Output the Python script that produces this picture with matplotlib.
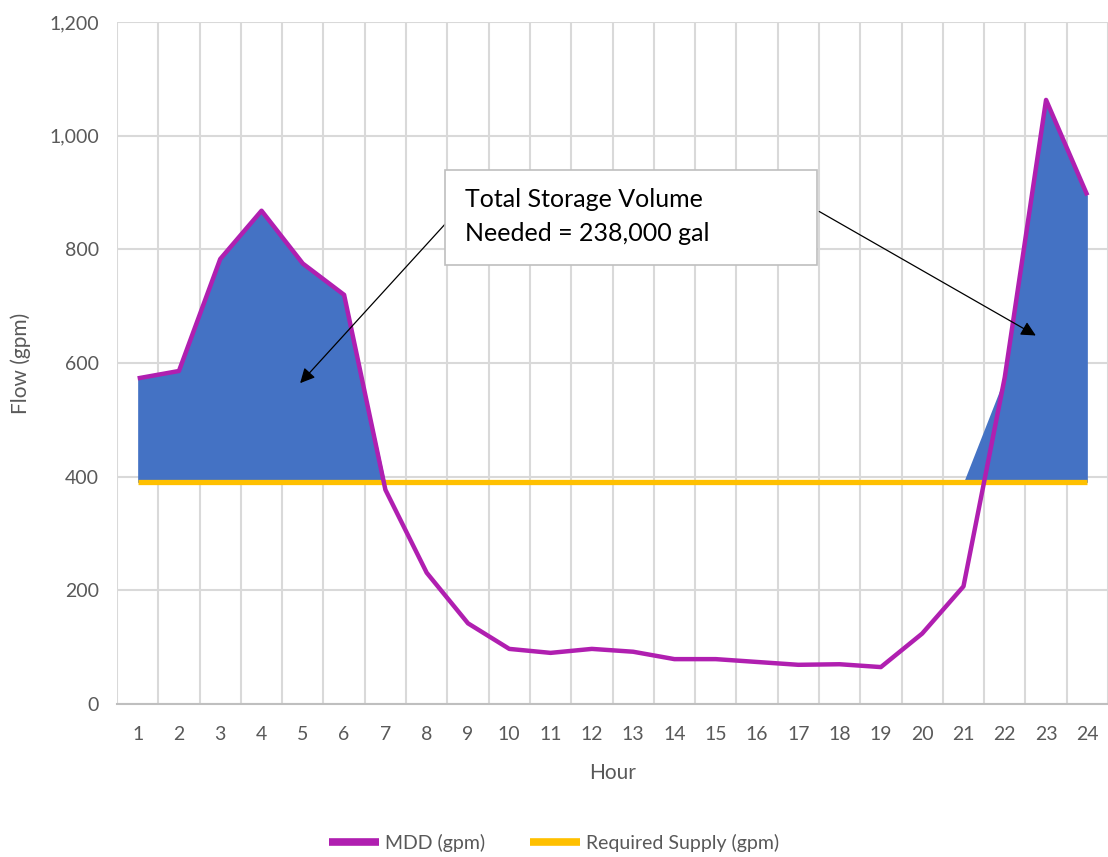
import numpy as np
import matplotlib
matplotlib.use('Agg')
import matplotlib.pyplot as plt
from matplotlib.patches import Rectangle
from matplotlib.ticker import FuncFormatter, MultipleLocator

plt.rcParams['font.family'] = ['Lato', 'DejaVu Sans']

# data
hours = np.arange(1, 25)
mdd = [573, 586, 783, 868, 775, 720, 377, 231, 142, 97, 90, 97,
       92, 79, 79, 74, 69, 70, 65, 124, 207, 575, 1063, 895]
supply = [390] * 24
note = 'Total Storage Volume\nNeeded = 238,000 gal'

grey_txt = '#595959'
mdd = np.array(mdd)
supply = np.array(supply)

fig = plt.figure(figsize=(11.08, 8.57), dpi=100)
ax = fig.add_axes([0.1056, 0.1785, 0.8944, 0.7958])

# storage area (excess over supply, only at hourly points)
ax.fill_between(hours, supply, np.maximum(mdd, supply), color='#4472C4', lw=0, zorder=2)
l_mdd, = ax.plot(hours, mdd, color='#B01FB0', lw=3.2, solid_capstyle='butt', zorder=4,
                 label='MDD (gpm)')
l_sup, = ax.plot(hours, supply, color='#FFC000', lw=3.8, solid_capstyle='butt', zorder=3,
                 label='Required Supply (gpm)')

ax.set_xlim(0.5, 24.5)
ax.set_ylim(0, 1200)
ax.set_xticks(hours)
ax.xaxis.set_minor_locator(MultipleLocator(1, offset=0.5))
ax.yaxis.set_major_locator(MultipleLocator(200))
ax.yaxis.set_major_formatter(FuncFormatter(lambda v, p: f'{int(v):,}'))
ax.grid(True, which='minor', axis='x', color='#d9d9d9', lw=1.5, zorder=0)
ax.grid(True, which='major', axis='y', color='#d9d9d9', lw=1.5, zorder=0)
ax.set_axisbelow(True)
for s in ['top', 'right', 'left']:
    ax.spines[s].set_visible(False)
ax.spines['bottom'].set_color('#bfbfbf')
ax.spines['bottom'].set_linewidth(1.5)
ax.tick_params(axis='both', which='both', length=0, labelsize=14, labelcolor=grey_txt)
ax.tick_params(axis='y', pad=13)
ax.tick_params(axis='x', pad=16)

ax.set_xlabel('Hour', fontsize=15, color=grey_txt, labelpad=14)
ax.set_ylabel('Flow (gpm)', fontsize=15, color=grey_txt, labelpad=13)

# callout box and arrows
ax.add_patch(Rectangle((8.44, 772), 9.01, 168, facecolor='white', edgecolor='#bfbfbf',
                       lw=1.2, zorder=6))
ax.text(8.92, 858, note, fontsize=18, va='center', ha='left', color='black',
        linespacing=1.55, zorder=7)
ax.annotate('', xy=(4.89, 561), xytext=(8.49, 848),
            arrowprops=dict(arrowstyle='-|>', color='black', lw=0.9, mutation_scale=22),
            zorder=5)
ax.annotate('', xy=(22.81, 646), xytext=(17.45, 869),
            arrowprops=dict(arrowstyle='-|>', color='black', lw=0.9, mutation_scale=22),
            zorder=5)

leg = fig.legend(handles=[l_mdd, l_sup], loc='center', bbox_to_anchor=(0.5, 1 - 843 / 857),
                 ncol=2, frameon=False, fontsize=14, handlelength=2.6, handletextpad=0.3,
                 columnspacing=2.3)
for t in leg.get_texts():
    t.set_color(grey_txt)
for h in leg.legend_handles:
    h.set_linewidth(5.5)

fig.savefig('out.png', dpi=100)
